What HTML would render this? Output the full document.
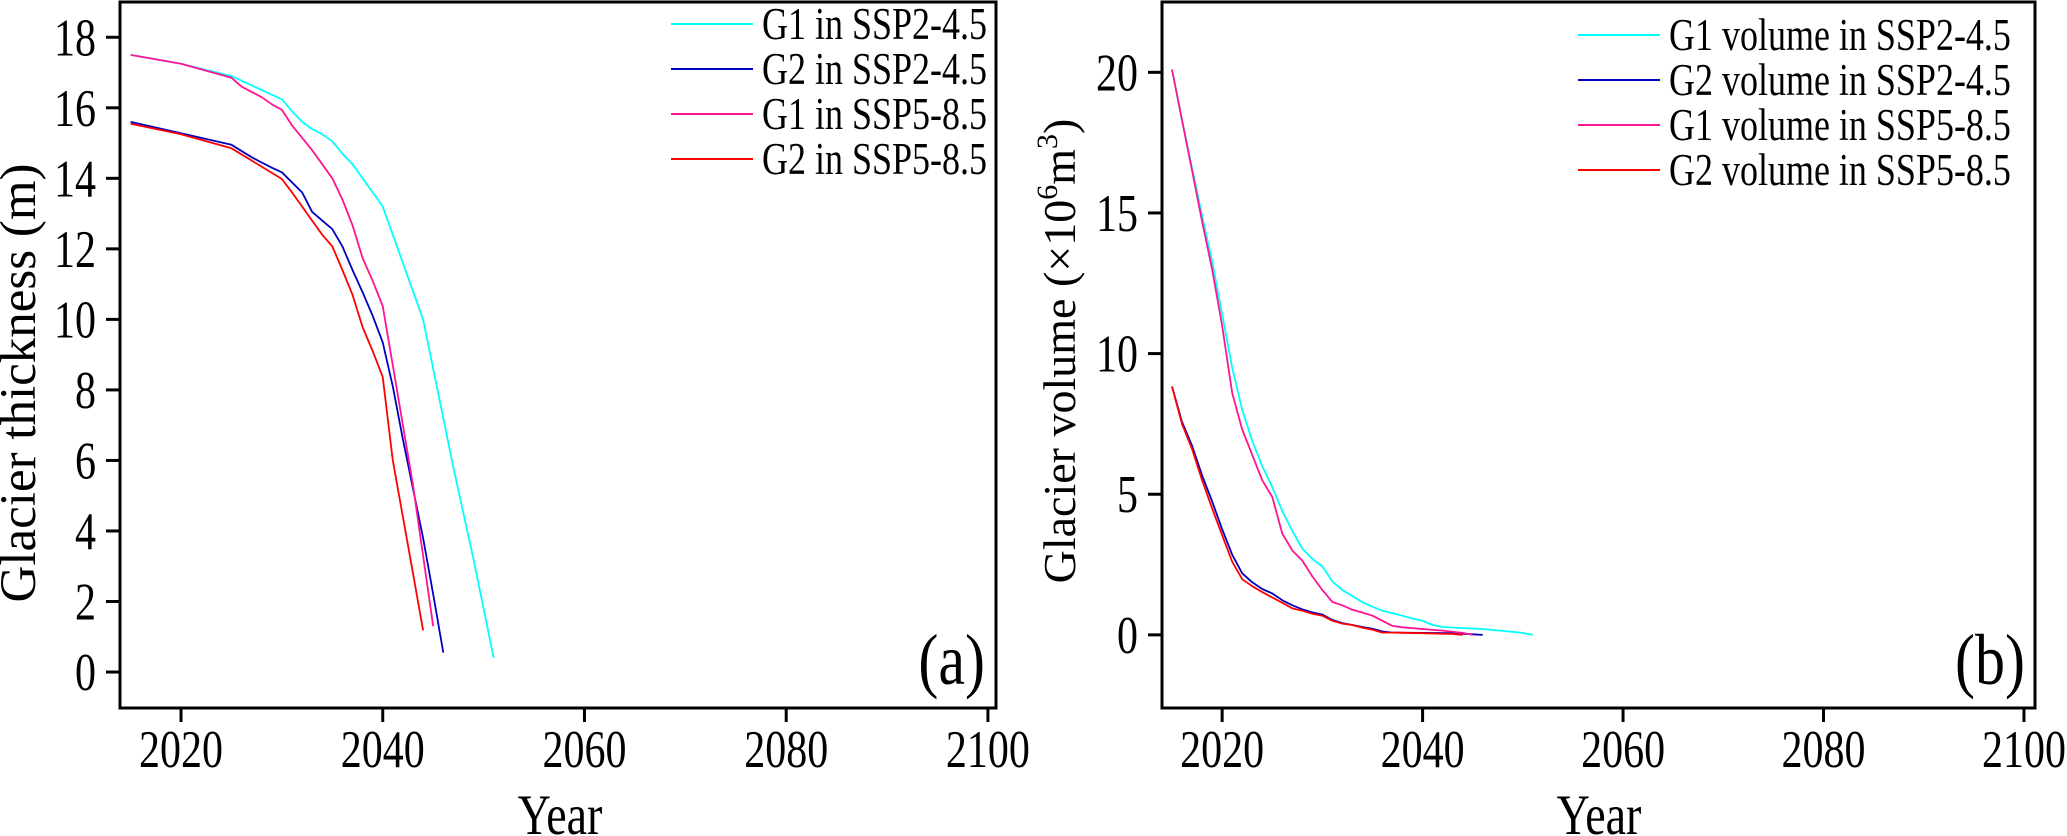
<!DOCTYPE html>
<html><head><meta charset="utf-8">
<style>
html,body{margin:0;padding:0;background:#fff;}
svg{display:block;}
text{font-family:"Liberation Serif","DejaVu Serif",serif;fill:#000;}
</style></head>
<body>
<svg id="chart" width="2067" height="836" viewBox="0 0 2067 836" xmlns="http://www.w3.org/2000/svg">
<g id="pa"></g>
<g id="pb"></g>
<text x="35" y="383" font-size="51" text-anchor="middle" transform="rotate(-90 35 383)">Glacier thickness (m)</text>
<text x="1075" y="351" font-size="46" text-anchor="middle" transform="rotate(-90 1075 351)">Glacier volume (×10<tspan font-size="30" dy="-18">6</tspan><tspan dy="18">m</tspan><tspan font-size="30" dy="-18">3</tspan><tspan dy="18">)</tspan></text>
<text x="0" y="0" font-size="46" text-anchor="middle" transform="translate(560 834) scale(1 1.25)">Year</text>
<text x="0" y="0" font-size="46" text-anchor="middle" transform="translate(1599 834) scale(1 1.25)">Year</text>
<text x="0" y="0" font-size="60" text-anchor="end" transform="translate(985 684) scale(1 1.2)">(a)</text>
<text x="0" y="0" font-size="60" text-anchor="end" transform="translate(2025 684) scale(1 1.2)">(b)</text>
</svg>
<script>
// ---- Panel (a) data: glacier thickness (m) ----
const yearsA_G1_245 = [2015,2020,2025,2030,2031,2032,2033,2034,2035,2036,2037,2038,2039,2040,2041,2042,2043,2044,2045,2046,2047,2048,2049,2050,2051];
const thickA_G1_245 = [17.5,17.25,16.9,16.24,15.9,15.6,15.4,15.25,15.05,14.7,14.4,14.0,13.6,13.2,12.4,11.6,10.8,10.0,8.6,7.2,5.8,4.5,3.2,1.8,0.4];
const yearsA_G2_245 = [2015,2020,2025,2027,2028,2029,2030,2032,2033,2034,2035,2036,2037,2038,2039,2040,2041,2042,2043,2044,2045,2046];
const thickA_G2_245 = [15.6,15.28,14.95,14.6,14.45,14.3,14.17,13.6,13.05,12.8,12.56,12.07,11.4,10.77,10.1,9.35,8.1,6.6,5.2,3.8,2.2,0.55];
const yearsA_G1_585 = [2015,2020,2025,2026,2027,2028,2029,2030,2031,2033,2034,2035,2036,2037,2038,2039,2040,2041,2042,2043,2044,2045];
const thickA_G1_585 = [17.5,17.25,16.85,16.6,16.45,16.3,16.1,15.94,15.5,14.8,14.4,14.0,13.4,12.67,11.74,11.09,10.38,8.7,7.0,5.3,3.3,1.3];
const yearsA_G2_585 = [2015,2020,2025,2030,2031,2032,2033,2034,2035,2036,2037,2038,2039,2040,2041,2042,2043,2044];
const thickA_G2_585 = [15.55,15.25,14.85,13.98,13.6,13.2,12.8,12.4,12.07,11.4,10.7,9.78,9.1,8.37,6.0,4.4,2.8,1.18];
const ticksA_y = [0,2,4,6,8,10,12,14,16,18];
const ticksX = [2020,2040,2060,2080,2100];

// ---- Panel (b) data: glacier volume (x10^6 m^3) ----
const yearsB_G1_245 = [2015,2016,2017,2018,2019,2020,2021,2022,2023,2024,2025,2026,2027,2028,2029,2030,2031,2032,2033,2034,2035,2036,2037,2038,2039,2040,2041,2042,2044,2046,2048,2050,2051];
const volB_G1_245 = [20.1,18.3,16.6,14.9,13.3,11.4,9.5,8.0,6.9,6.0,5.25,4.4,3.7,3.07,2.7,2.43,1.9,1.59,1.38,1.16,1.0,0.86,0.77,0.68,0.58,0.5,0.35,0.28,0.24,0.21,0.14,0.07,0.0];
const yearsB_G2_245 = [2015,2016,2017,2018,2019,2020,2021,2022,2023,2024,2025,2026,2027,2028,2029,2030,2031,2032,2033,2034,2035,2036,2037,2040,2043,2045,2046];
const volB_G2_245 = [8.83,7.57,6.72,5.67,4.75,3.76,2.85,2.19,1.87,1.63,1.47,1.23,1.05,0.91,0.8,0.72,0.53,0.42,0.35,0.28,0.22,0.12,0.08,0.07,0.06,0.02,0.0];
const yearsB_G1_585 = [2015,2016,2017,2018,2019,2020,2021,2022,2024,2025,2026,2027,2028,2029,2030,2031,2032,2033,2034,2035,2036,2037,2038,2040,2042,2044,2045];
const volB_G1_585 = [20.1,18.3,16.5,14.7,13.0,11.0,8.6,7.3,5.5,4.9,3.6,3.0,2.64,2.08,1.59,1.17,1.05,0.89,0.79,0.68,0.5,0.32,0.27,0.21,0.15,0.07,0.0];
const yearsB_G2_585 = [2015,2016,2017,2018,2019,2020,2021,2022,2023,2024,2025,2026,2027,2028,2029,2030,2031,2032,2033,2034,2035,2036,2037,2040,2043,2044];
const volB_G2_585 = [8.83,7.5,6.6,5.5,4.5,3.55,2.6,1.98,1.73,1.52,1.33,1.14,0.94,0.86,0.75,0.68,0.5,0.4,0.35,0.25,0.18,0.08,0.08,0.06,0.03,0.0];
const ticksB_y = [0,5,10,15,20];

const NS = "http://www.w3.org/2000/svg";
const STRETCH = 1.25;
function mk(parent, tag, attrs, txt){
  const e = document.createElementNS(NS, tag);
  for (const k in attrs) e.setAttribute(k, attrs[k]);
  if (txt !== undefined) e.textContent = txt;
  parent.appendChild(e);
  return e;
}
function mkText(parent, x, y, size, anchor, txt){
  return mk(parent, "text", {x: 0, y: 0, "font-size": size, "text-anchor": anchor,
    transform: "translate(" + x.toFixed(1) + " " + y.toFixed(1) + ") scale(1 " + STRETCH + ")"}, txt);
}

function drawPanel(g, cfg){
  const {x0,x1,y0,y1,xmin,xmax,ymin,ymax} = cfg;
  const sx = v => x0 + (v - xmin) / (xmax - xmin) * (x1 - x0);
  const sy = v => y1 - (v - ymin) / (ymax - ymin) * (y1 - y0);
  cfg.series.forEach(s => {
    const pts = s.x.map((xv,i) => sx(xv).toFixed(1) + "," + sy(s.y[i]).toFixed(1)).join(" ");
    const pl = mk(g, "polyline", {points: pts, fill: "none", stroke: s.color, "stroke-width": 1.8, "stroke-linejoin": "round"});
    
    
  });
  const fr = mk(g, "rect", {x: x0, y: y0, width: x1 - x0, height: y1 - y0, fill: "none", stroke: "#000", "stroke-width": 3});
  
  
  ticksX.forEach(t => {
    const x = sx(t);
    const tk = mk(g, "line", {x1: x, x2: x, y1: y1, y2: y1 + 14, stroke: "#000", "stroke-width": 3});
    
    
    const lb = mkText(g, x, 767, 42, "middle", String(t));
    
    
  });
  cfg.yticks.forEach(t => {
    const y = sy(t);
    const tk = mk(g, "line", {x1: x0 - 14, x2: x0, y1: y, y2: y, stroke: "#000", "stroke-width": 3});
    
    
    const lb = mkText(g, x0 - 24, y + 18, 42, "end", String(t));
    
    
  });
  cfg.series.forEach((s,i) => {
    const ly = cfg.legY + i * cfg.legDy;
    const ll = mk(g, "line", {x1: cfg.legX, x2: cfg.legX + 82, y1: ly, y2: ly, stroke: s.color, "stroke-width": 2});
    
    
    const lt = mkText(g, cfg.legX + 91, ly + 15, 36, "start", s.label);
    
    
  });
}

const pa = document.getElementById("pa");
drawPanel(pa, {x0:120, x1:996, y0:2, y1:708, xmin:2013.95, xmax:2100.8, ymin:-1.02, ymax:19.0,
  yticks: ticksA_y, legX: 671, legY: 24, legDy: 45,
  series: [
    {name:"line-g1-ssp245", x:yearsA_G1_245, y:thickA_G1_245, color:"#00ffff", label:"G1 in SSP2-4.5"},
    {name:"line-g2-ssp245", x:yearsA_G2_245, y:thickA_G2_245, color:"#0000c0", label:"G2 in SSP2-4.5"},
    {name:"line-g1-ssp585", x:yearsA_G1_585, y:thickA_G1_585, color:"#ff1493", label:"G1 in SSP5-8.5"},
    {name:"line-g2-ssp585", x:yearsA_G2_585, y:thickA_G2_585, color:"#ff0000", label:"G2 in SSP5-8.5"}
  ]});
const pb = document.getElementById("pb");
drawPanel(pb, {x0:1162, x1:2035, y0:2, y1:708, xmin:2014.0, xmax:2101.1, ymin:-2.6, ymax:22.5,
  yticks: ticksB_y, legX: 1578, legY: 35, legDy: 45,
  series: [
    {name:"line-g1-volume-ssp245", x:yearsB_G1_245, y:volB_G1_245, color:"#00ffff", label:"G1 volume in SSP2-4.5"},
    {name:"line-g2-volume-ssp245", x:yearsB_G2_245, y:volB_G2_245, color:"#0000c0", label:"G2 volume in SSP2-4.5"},
    {name:"line-g1-volume-ssp585", x:yearsB_G1_585, y:volB_G1_585, color:"#ff1493", label:"G1 volume in SSP5-8.5"},
    {name:"line-g2-volume-ssp585", x:yearsB_G2_585, y:volB_G2_585, color:"#ff0000", label:"G2 volume in SSP5-8.5"}
  ]});
</script>
</body></html>
